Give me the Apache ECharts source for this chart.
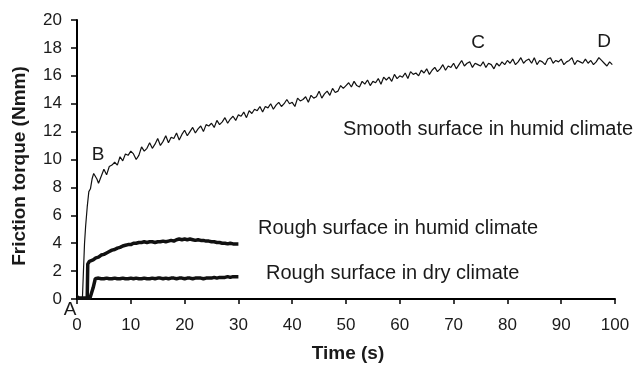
<!DOCTYPE html>
<html>
<head>
<meta charset="utf-8">
<script src="https://cdn.jsdelivr.net/npm/echarts@6/dist/echarts.min.js"></script>
<style>
  html, body { margin: 0; padding: 0; background: #fff; }
  #chart { width: 634px; height: 368px; }
</style>
</head>
<body>
<div id="chart"></div>
<script>
var xTicks = [0, 10, 20, 30, 40, 50, 60, 70, 80, 90, 100];
var yTicks = [0, 2, 4, 6, 8, 10, 12, 14, 16, 18, 20];
var step = 0.5; // sampling step of the recorded curves (s)

// smooth surface, humid climate: start-up ramp as [time, torque], then sampled torque
var smoothRamp = [[0, 0.3], [0.3, 0.25], [0.6, 0.05], [1.0, 0.0], [1.2, 2.0], [1.4, 4.0],
    [1.6, 5.2], [1.9, 6.6], [2.2, 7.7], [2.5, 7.9], [2.8, 8.6], [3.1, 9.0], [3.4, 9.1],
    [3.7, 8.6], [4.0, 8.3], [4.2, 8.5]];
var smoothStart = 4.5;
var smoothTorque = [
    8.6, 9.3, 8.9, 9.5, 9.6, 9.8, 9.6, 10.2, 9.9, 10.4,
    10.3, 10.6, 10.4, 10.0, 10.3, 10.9, 10.6, 10.8, 11.2, 10.8,
    11.1, 11.5, 11.0, 11.3, 11.7, 11.2, 11.6, 11.5, 11.9, 11.4,
    11.8, 12.1, 11.7, 12.0, 12.3, 11.9, 12.2, 12.4, 12.0, 12.5,
    12.4, 12.6, 12.3, 12.8, 12.5, 12.7, 13.0, 12.6, 12.9, 13.1,
    12.8, 13.2, 13.1, 13.4, 13.0, 13.5, 13.3, 13.6, 13.5, 13.8,
    13.4, 13.8, 13.7, 14.0, 13.6, 13.9, 14.1, 13.8, 14.0, 14.3,
    14.0, 14.1, 13.8, 14.4, 14.2, 14.3, 14.5, 14.1, 14.6, 14.4,
    14.5, 14.9, 14.4, 14.7, 14.9, 14.6, 15.1, 14.8, 14.9, 15.3,
    15.1, 15.3, 15.5, 15.2, 15.6, 15.3, 15.2, 15.6, 15.4, 15.7,
    15.3, 15.6, 15.5, 15.8, 15.4, 15.9, 15.7, 15.9, 15.6, 16.1,
    15.8, 16.0, 15.9, 16.2, 15.8, 16.3, 16.1, 16.2, 16.0, 16.4,
    16.2, 16.5, 16.1, 16.4, 16.6, 16.3, 16.5, 16.8, 16.4, 16.7,
    16.6, 16.9, 16.5, 16.8, 17.1, 16.7, 16.9, 17.0, 16.6, 16.9,
    16.8, 16.7, 17.0, 16.6, 16.9, 16.8, 16.5, 16.9, 16.7, 17.0,
    16.8, 17.1, 16.9, 17.2, 16.8, 17.0, 17.3, 16.9, 17.1, 17.2,
    16.9, 17.3, 16.8, 17.1, 17.0, 16.8, 17.2, 17.3, 16.9, 17.1,
    17.0, 17.2, 16.8, 17.0, 17.1, 17.3, 16.8, 17.1, 17.0, 16.9,
    17.2, 16.9, 17.1, 16.8, 17.0, 17.3, 17.1, 16.9, 16.7, 17.0,
    16.8
];

// rough surface, humid climate
var humidRamp = [[0, 0.05], [1.9, 0.05], [2.0, 2.5], [2.3, 2.7]];
var humidStart = 2.5;
var humidTorque = [
    2.75, 2.8, 2.95, 3.0, 3.15, 3.2, 3.3, 3.4, 3.5, 3.55,
    3.65, 3.7, 3.8, 3.85, 3.9, 3.9, 4.0, 4.0, 4.05, 4.05,
    4.1, 4.05, 4.1, 4.1, 4.05, 4.1, 4.1, 4.15, 4.1, 4.15,
    4.2, 4.15, 4.25, 4.3, 4.25, 4.3, 4.25, 4.3, 4.25, 4.2,
    4.25, 4.2, 4.2, 4.15, 4.15, 4.1, 4.1, 4.05, 4.05, 4.0,
    4.0, 3.95, 4.0, 3.95, 3.95, 3.95
];

// rough surface, dry climate
var dryRamp = [[0, 0.05], [2.4, 0.05], [3.0, 0.8], [3.4, 1.45]];
var dryStart = 3.5;
var dryTorque = [
    1.45, 1.5, 1.45, 1.45, 1.5, 1.45, 1.45, 1.5, 1.45, 1.45,
    1.5, 1.45, 1.45, 1.5, 1.45, 1.5, 1.45, 1.45, 1.5, 1.45,
    1.45, 1.5, 1.45, 1.5, 1.5, 1.45, 1.5, 1.45, 1.5, 1.5,
    1.45, 1.5, 1.5, 1.45, 1.5, 1.5, 1.45, 1.5, 1.5, 1.5,
    1.45, 1.5, 1.5, 1.5, 1.55, 1.5, 1.55, 1.55, 1.55, 1.6,
    1.55, 1.6, 1.6, 1.6
];

function buildSeries(ramp, start, values) {
    var out = ramp.slice();
    for (var i = 0; i < values.length; i++) {
        out.push([start + i * step, values[i]]);
    }
    return out;
}

var font = "'Liberation Sans', Arial, Helvetica, sans-serif";
var ink = '#1a1a1a';

var chart = echarts.init(document.getElementById('chart'));

function lineSeries(name, data, width) {
    return {
        name: name,
        type: 'line',
        data: data,
        showSymbol: false,
        symbol: 'none',
        lineStyle: { color: '#111', width: width },
        z: 3
    };
}

function txt(str, x, y, opts) {
    opts = opts || {};
    return {
        type: 'text',
        x: x, y: y,
        rotation: opts.rotation || 0,
        style: {
            text: str,
            fill: ink,
            font: (opts.bold ? 'bold ' : '') + (opts.size || 20) + 'px ' + font,
            textAlign: opts.align || 'left',
            textVerticalAlign: 'middle'
        }
    };
}

var option = {
    animation: false,
    grid: { left: 77, right: 19, top: 20, bottom: 69 },
    xAxis: {
        type: 'value',
        min: xTicks[0], max: xTicks[xTicks.length - 1], interval: 10,
        axisLine: { lineStyle: { color: '#000', width: 2 } },
        axisTick: { show: true, length: 5, lineStyle: { color: '#000', width: 1.5 } },
        axisLabel: { color: ink, fontSize: 17, fontFamily: font, margin: 18 },
        splitLine: { show: false }
    },
    yAxis: {
        type: 'value',
        min: yTicks[0], max: yTicks[yTicks.length - 1], interval: 2,
        axisLine: { show: true, lineStyle: { color: '#000', width: 2 } },
        axisTick: { show: true, length: 6, lineStyle: { color: '#000', width: 1.5 } },
        axisLabel: { color: ink, fontSize: 17, fontFamily: font, margin: 15 },
        splitLine: { show: false }
    },
    series: [
        lineSeries('Smooth surface in humid climate', buildSeries(smoothRamp, smoothStart, smoothTorque), 1.2),
        lineSeries('Rough surface in humid climate', buildSeries(humidRamp, humidStart, humidTorque), 3.5),
        lineSeries('Rough surface in dry climate', buildSeries(dryRamp, dryStart, dryTorque), 3.5)
    ],
    graphic: [
        txt('Friction torque (Nmm)', 20, 166, { bold: true, size: 19, align: 'center', rotation: Math.PI / 2 }),
        txt('Time (s)', 348, 354, { bold: true, size: 19, align: 'center' }),
        txt('Smooth surface in humid climate', 343, 129),
        txt('Rough surface in humid climate', 258, 228),
        txt('Rough surface in dry climate', 266, 273),
        txt('A', 70, 310, { size: 19, align: 'center' }),
        txt('B', 98, 155, { size: 19, align: 'center' }),
        txt('C', 478, 43, { size: 19, align: 'center' }),
        txt('D', 604, 42, { size: 19, align: 'center' })
    ]
};

chart.setOption(option);
</script>
</body>
</html>
